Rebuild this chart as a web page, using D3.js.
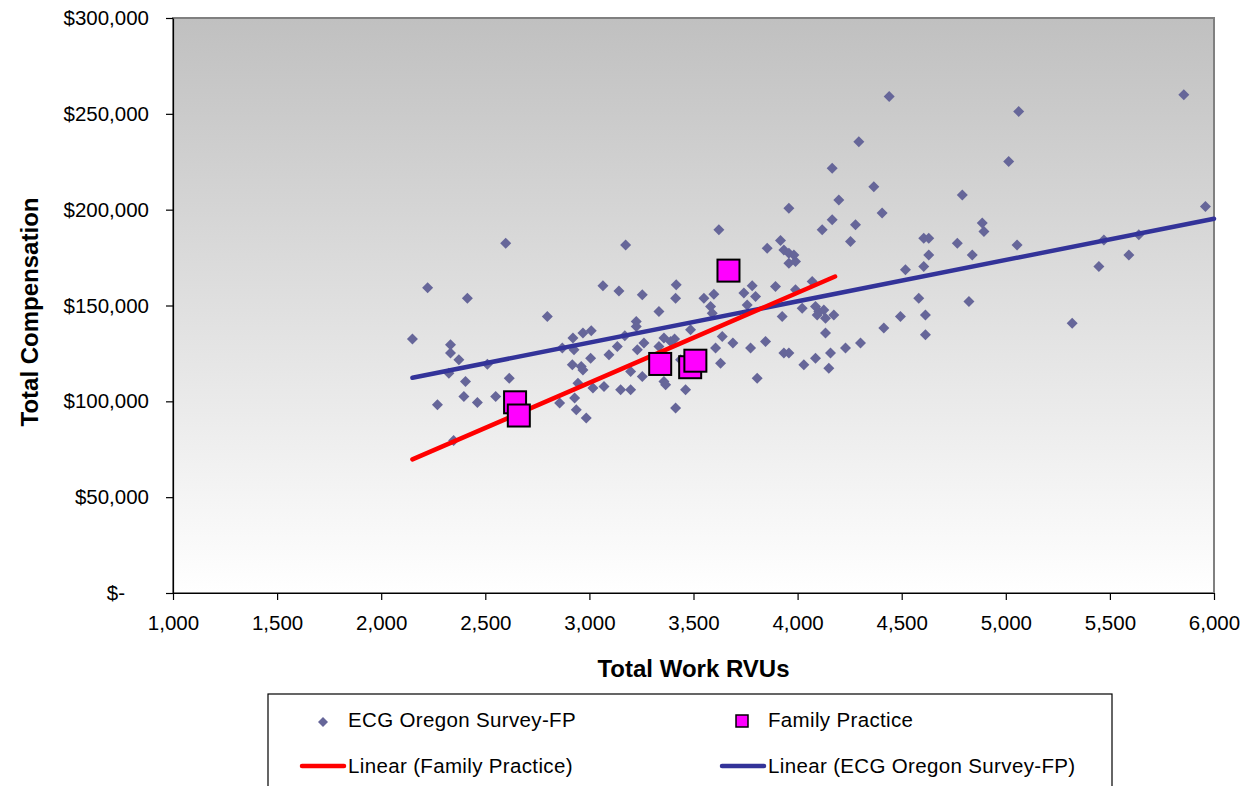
<!DOCTYPE html>
<html>
<head>
<meta charset="utf-8">
<script src="https://cdn.jsdelivr.net/npm/d3@7"></script>
<style>
	body { margin: 0; background: #fff; }
	svg { display: block; font-family: "Liberation Sans", Arial, sans-serif; }
</style>
</head>
<body>
<script>
// ECG Oregon Survey-FP (work RVUs, total compensation)
const ecgRvus = [
	2150, 2223, 2333, 2333, 2373, 2325, 2405, 2397, 2462, 2550, 2615, 2270, 2348, 2510, 2414, 2598,
	2798, 2870, 2921, 2969, 3009, 2926, 2918, 2961, 2969, 3006, 2945, 3017, 3070, 2857, 2929, 2937,
	2985, 3065, 3142, 3174, 3254, 3334, 3417, 3414, 3225, 3225, 3170, 3782, 3742, 3598, 3550, 3582,
	3590, 3758, 3798, 3486, 3638, 3689, 3774, 3606, 3630, 3358, 3390, 3409, 3262, 3334, 3230, 3134,
	3094, 3198, 3254, 3150, 3198, 3358, 3366, 3462, 3414, 3486, 3438, 3806, 3958, 4198, 4406, 4166,
	4278, 4118, 4254, 3622, 3854, 3918, 3934, 3958, 3982, 3958, 3990, 4518, 4582, 4494, 4414, 4302,
	4230, 4158, 4086, 4030, 4150, 4134, 4086, 4102, 4094, 4134, 4174, 4126, 4022, 3990, 4070, 3894,
	3926, 3934, 3958, 3846, 4440, 5855, 5062, 5014, 4791, 5959, 4606, 4630, 4887, 4895, 4767, 5054,
	4630, 4839, 4606, 5471, 5639, 5447, 5591, 4823, 4614, 4614, 5319, 4294, 4166, 4366
];
const ecgComp = [
	132500, 159200, 129500, 125200, 121700, 114700, 110300, 102500, 99400, 102500, 112100, 98200, 79600, 119400, 153800, 182500,
	144200, 127800, 133000, 135600, 136800, 126900, 119100, 118200, 116400, 122500, 109500, 106900, 107700, 99100, 101700, 95600,
	91300, 160300, 157600, 181600, 155600, 146900, 160800, 153800, 141600, 139000, 134200, 160300, 156500, 155900, 153800, 149500,
	146000, 150300, 154700, 137300, 133800, 130400, 127800, 127800, 119900, 133000, 131200, 132500, 130400, 128600, 126900, 128600,
	124300, 115600, 113000, 106000, 106000, 110300, 108600, 106000, 96500, 114700, 121700, 112100, 200800, 205100, 198200, 194700,
	192100, 189500, 183400, 189500, 179900, 183900, 179000, 177300, 176400, 172100, 172900, 168600, 153800, 144200, 138200, 130400,
	127800, 125200, 122500, 119100, 117300, 135600, 149500, 146900, 145100, 143400, 145100, 147700, 148600, 158200, 162500, 159900,
	144200, 125200, 125200, 131200, 259000, 259900, 251200, 225100, 207700, 201600, 185100, 185100, 193000, 188600, 182500, 181600,
	176400, 176400, 170300, 184200, 186900, 170300, 176400, 152100, 145100, 134700, 140800, 235500, 221600, 212000
];

// Family Practice
const fpRvus = [2643, 2661, 3340, 3484, 3509, 3668];
const fpComp = [99500, 92600, 119500, 117800, 121200, 168200];

// trend lines (start, end)
const fpTrendRvus = [2150, 4180];
const fpTrendComp = [69700, 165100];
const ecgTrendRvus = [2150, 6000];
const ecgTrendComp = [112300, 195300];

const xTicks = [1000, 1500, 2000, 2500, 3000, 3500, 4000, 4500, 5000, 5500, 6000];
const yTicks = [0, 50000, 100000, 150000, 200000, 250000, 300000];
const legendLabels = ["ECG Oregon Survey-FP", "Family Practice", "Linear (Family Practice)", "Linear (ECG Oregon Survey-FP)"];

const colors = {
	diamond: "#666699",
	square: "#ff00ff",
	fpLine: "#ff0000",
	ecgLine: "#333399",
	text: "#000"
};
const plot = { left: 173, right: 1214, top: 18, bottom: 593 };

const svg = d3.select("body")
	.append("svg")
	.attr("width", 1256)
	.attr("height", 786);

const x = d3.scaleLinear().domain([1000, 6000]).range([plot.left, plot.right]);
const y = d3.scaleLinear().domain([0, 300000]).range([plot.bottom, plot.top]);

// background gradient of plot area
const grad = svg.append("defs")
	.append("linearGradient")
	.attr("id", "plotBg")
	.attr("x1", 0).attr("y1", 0).attr("x2", 0).attr("y2", 1);
grad.append("stop").attr("offset", "0%").attr("stop-color", "#c0c0c0");
grad.append("stop").attr("offset", "100%").attr("stop-color", "#ffffff");

svg.append("rect")
	.attr("x", plot.left)
	.attr("y", plot.top)
	.attr("width", plot.right - plot.left)
	.attr("height", plot.bottom - plot.top)
	.attr("fill", "url(#plotBg)")
	.attr("stroke", "#808080")
	.attr("stroke-width", 2);

// Diamonds
const diamond = "M0,-5.5L5.5,0L0,5.5L-5.5,0Z";
svg.append("g")
	.selectAll("path")
	.data(ecgRvus.map((d, i) => ({ rvu: d, comp: ecgComp[i] })))
	.enter()
	.append("path")
	.attr("d", diamond)
	.attr("transform", (d) => `translate(${x(d.rvu)},${y(d.comp)})`)
	.attr("fill", colors.diamond);

// Trend lines
const line = d3.line().x((d) => x(d[0])).y((d) => y(d[1]));
svg.append("path")
	.datum(ecgTrendRvus.map((d, i) => [d, ecgTrendComp[i]]))
	.attr("d", line)
	.attr("fill", "none")
	.attr("stroke", colors.ecgLine)
	.attr("stroke-width", 4.5)
	.attr("stroke-linecap", "round");

svg.append("path")
	.datum(fpTrendRvus.map((d, i) => [d, fpTrendComp[i]]))
	.attr("d", line)
	.attr("fill", "none")
	.attr("stroke", colors.fpLine)
	.attr("stroke-width", 4.5)
	.attr("stroke-linecap", "round");

// Family Practice squares
const sq = 22;
svg.append("g")
	.selectAll("rect")
	.data(fpRvus.map((d, i) => ({ rvu: d, comp: fpComp[i] })))
	.enter()
	.append("rect")
	.attr("x", (d) => x(d.rvu) - sq / 2)
	.attr("y", (d) => y(d.comp) - sq / 2)
	.attr("width", sq)
	.attr("height", sq)
	.attr("fill", colors.square)
	.attr("stroke", "#000")
	.attr("stroke-width", 2);

// Axes
const xAxis = svg.append("g")
	.attr("transform", `translate(0,${plot.bottom})`)
	.call(d3.axisBottom(x).tickValues(xTicks).tickSize(7).tickSizeOuter(0).tickPadding(15)
		.tickFormat(d3.format(",")));

const yAxis = svg.append("g")
	.attr("transform", `translate(${plot.left},0)`)
	.call(d3.axisLeft(y).tickValues(yTicks).tickSize(7).tickSizeOuter(0).tickPadding(17)
		.tickFormat((d) => d === 0 ? "$-" : "$" + d3.format(",")(d)));

[xAxis, yAxis].forEach((g) => {
	g.selectAll("path, line").attr("stroke", "#000").attr("stroke-width", 1.2);
	g.selectAll("text").attr("fill", colors.text).style("font-size", "20.5px");
});
yAxis.selectAll(".tick text").filter((d) => d === 0).attr("dx", -24);

// Axis titles
svg.append("text")
	.attr("x", (plot.left + plot.right) / 2)
	.attr("y", 677)
	.attr("text-anchor", "middle")
	.style("font-size", "24px")
	.style("font-weight", "bold")
	.text("Total Work RVUs");

svg.append("text")
	.attr("transform", "translate(38,312) rotate(-90)")
	.attr("text-anchor", "middle")
	.style("font-size", "24px")
	.style("font-weight", "bold")
	.text("Total Compensation");

// Legend
const legend = svg.append("g");
legend.append("rect")
	.attr("x", 268)
	.attr("y", 694)
	.attr("width", 844)
	.attr("height", 120)
	.attr("fill", "#fff")
	.attr("stroke", "#000")
	.attr("stroke-width", 1.2);

const legendItems = [
	{ label: legendLabels[0], kind: "diamond", mx: 323, tx: 348, ty: 727 },
	{ label: legendLabels[1], kind: "square", mx: 742, tx: 768, ty: 727 },
	{ label: legendLabels[2], kind: "line", color: colors.fpLine, mx: 302, tx: 348, ty: 773 },
	{ label: legendLabels[3], kind: "line", color: colors.ecgLine, mx: 722, tx: 768, ty: 773 }
];

legendItems.forEach((d) => {
	if (d.kind === "diamond") {
		legend.append("path")
			.attr("d", "M0,-5L5,0L0,5L-5,0Z")
			.attr("transform", `translate(${d.mx},${d.ty - 5})`)
			.attr("fill", colors.diamond);
	} else if (d.kind === "square") {
		legend.append("rect")
			.attr("x", d.mx - 6).attr("y", d.ty - 12)
			.attr("width", 12).attr("height", 12)
			.attr("fill", colors.square)
			.attr("stroke", "#000")
			.attr("stroke-width", 1.5);
	} else {
		legend.append("line")
			.attr("x1", d.mx).attr("x2", d.tx - 4)
			.attr("y1", d.ty - 7).attr("y2", d.ty - 7)
			.attr("stroke", d.color)
			.attr("stroke-width", 4.5)
			.attr("stroke-linecap", "round");
	}
	legend.append("text")
		.attr("x", d.tx)
		.attr("y", d.ty)
		.attr("fill", colors.text)
		.style("font-size", "20.5px")
		.style("letter-spacing", "0.35px")
		.text(d.label);
});
</script>
</body>
</html>
